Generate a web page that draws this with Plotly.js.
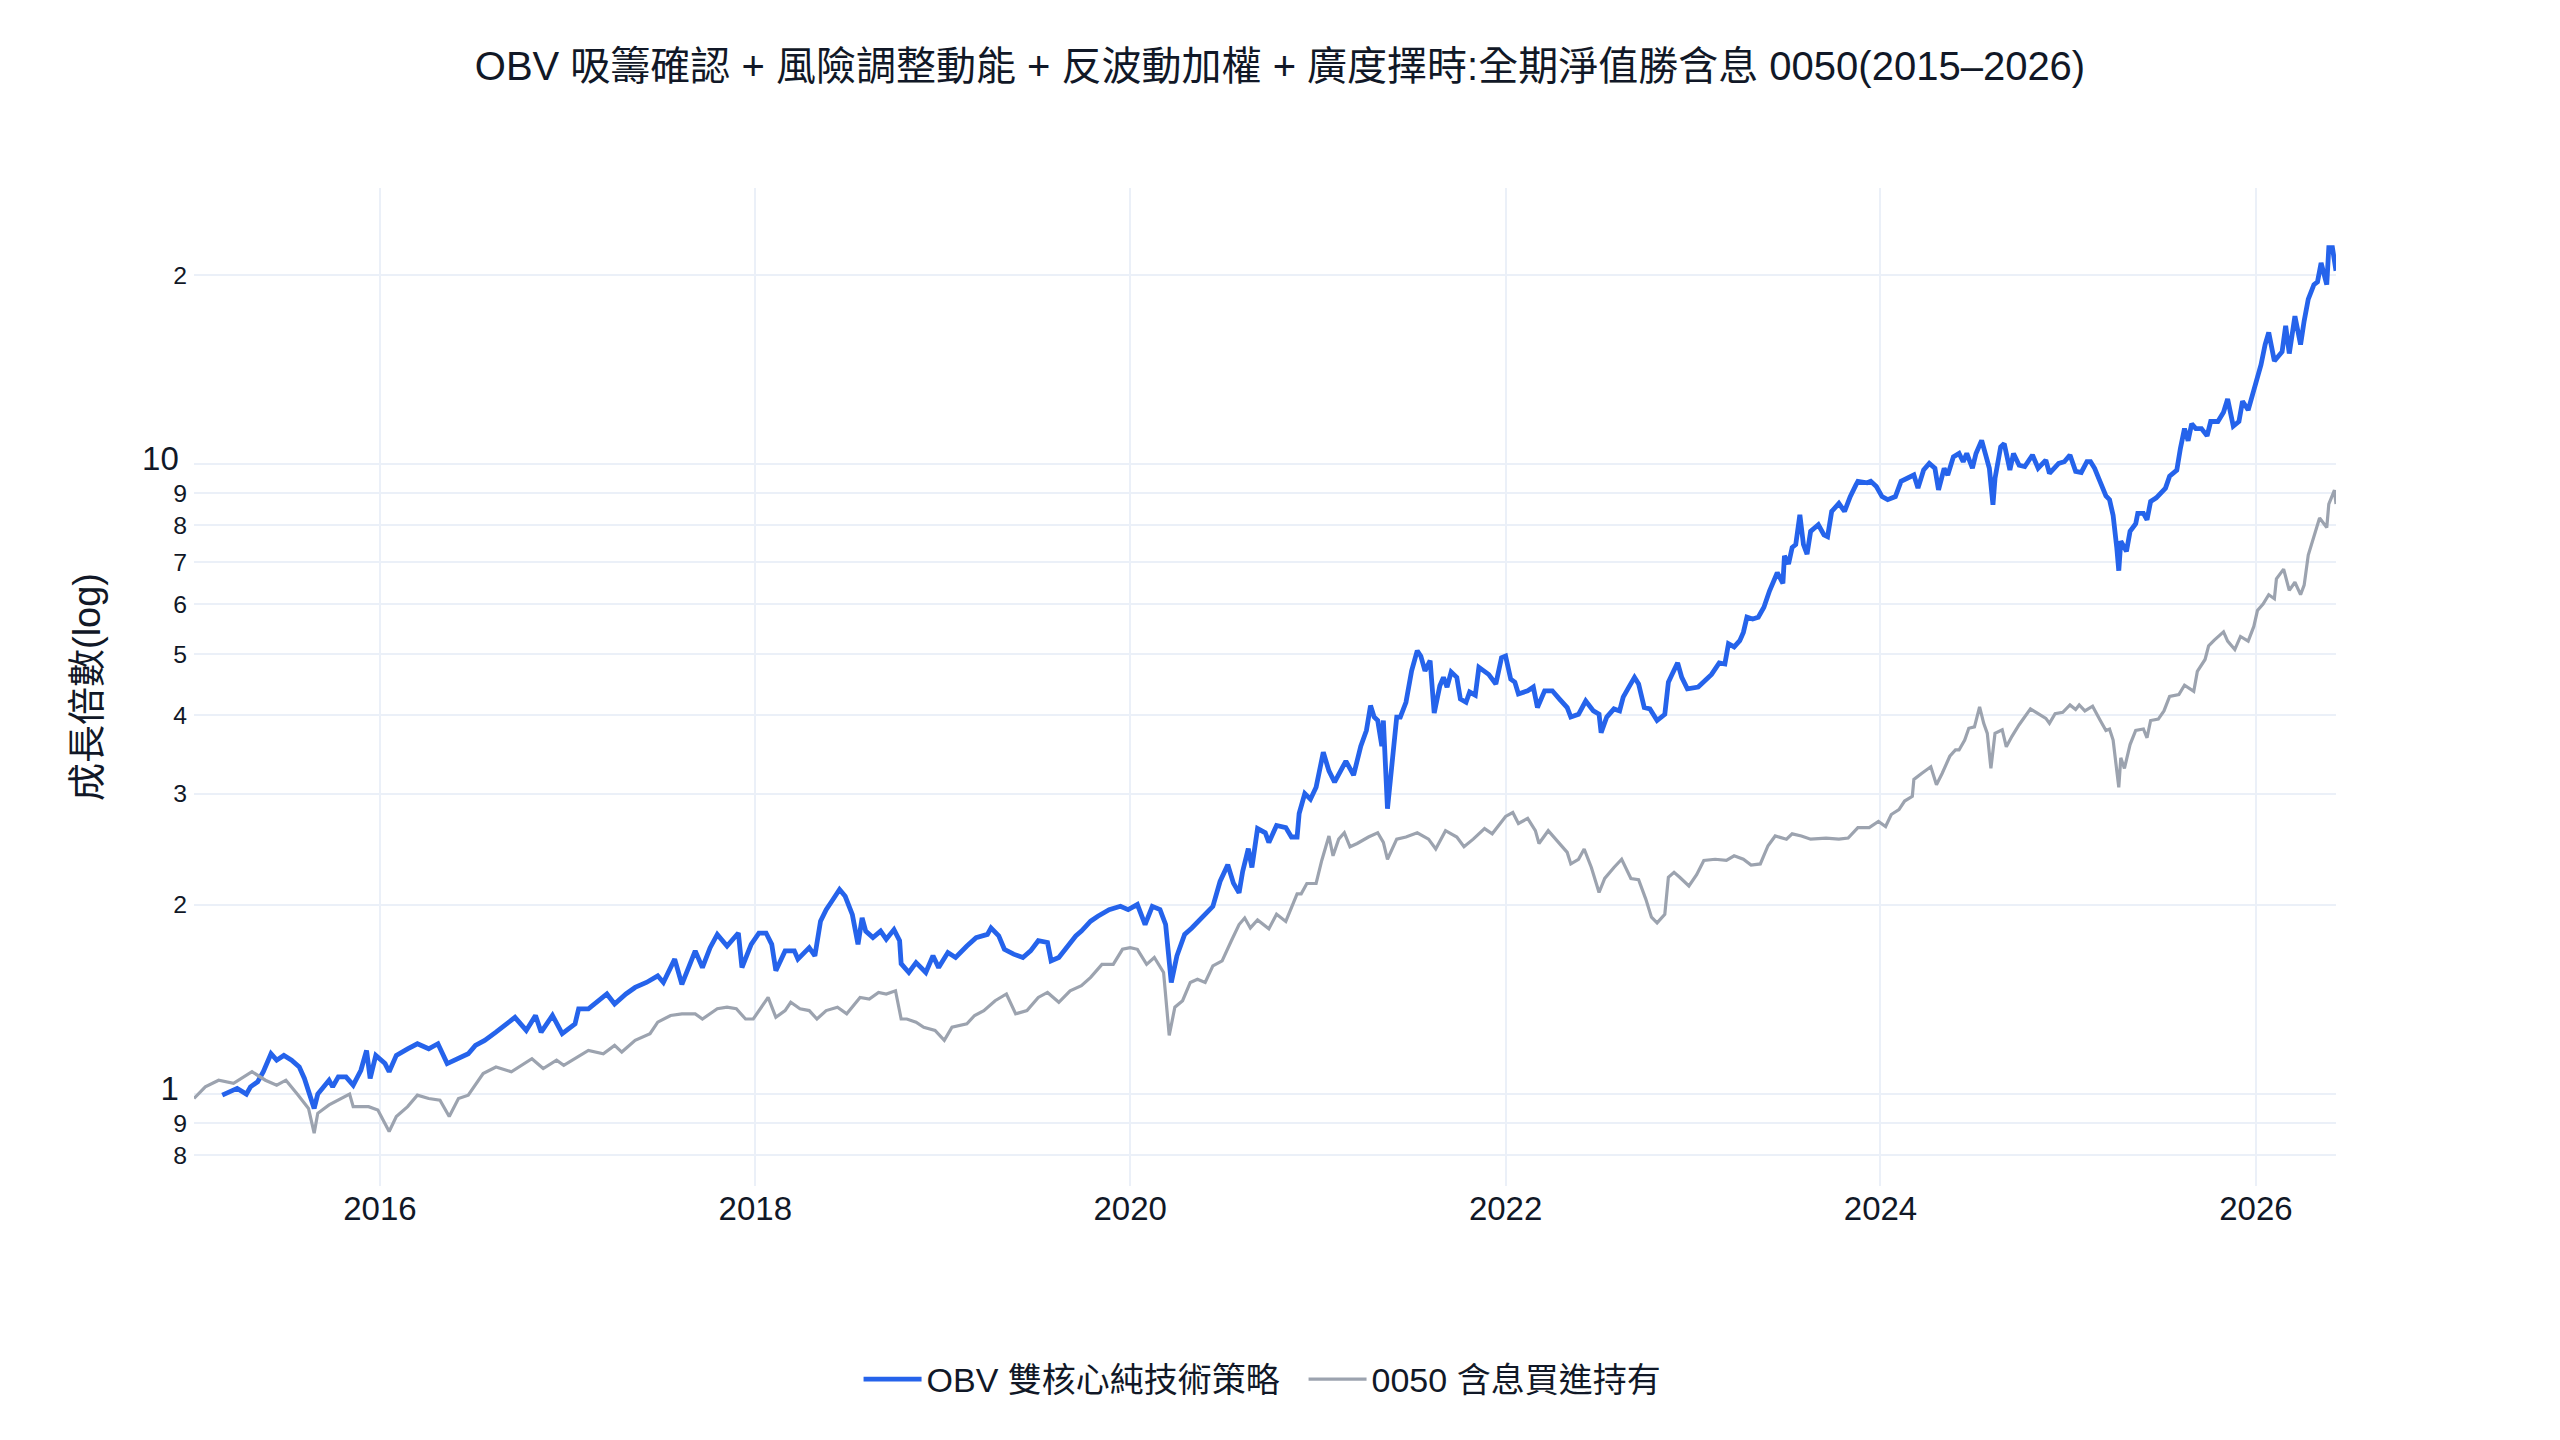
<!DOCTYPE html>
<html>
<head>
<meta charset="utf-8">
<script src="https://cdn.plot.ly/plotly-3.0.1.min.js"></script>
<style>
  html, body { margin: 0; padding: 0; background: #fff; overflow: hidden; }
  #chart { width: 2560px; height: 1440px; }
</style>
</head>
<body>
<div id="chart"></div>
<script>
// OBV strategy (decimal year, growth multiple)
const stratYear = [
  2015.16, 2015.20, 2015.24, 2015.29, 2015.31, 2015.35, 2015.38, 2015.42, 2015.45, 2015.49,
  2015.53, 2015.57, 2015.60, 2015.65, 2015.67, 2015.73, 2015.75, 2015.78, 2015.82, 2015.86,
  2015.90, 2015.93, 2015.95, 2015.98, 2016.03, 2016.05, 2016.09, 2016.15, 2016.20, 2016.26,
  2016.31, 2016.36, 2016.41, 2016.47, 2016.51, 2016.56, 2016.62, 2016.67, 2016.72, 2016.78,
  2016.83, 2016.86, 2016.92, 2016.97, 2017.04, 2017.06, 2017.11, 2017.21, 2017.25, 2017.31,
  2017.36, 2017.42, 2017.48, 2017.51, 2017.57, 2017.61, 2017.68, 2017.72, 2017.76, 2017.80,
  2017.85, 2017.91, 2017.93, 2017.98, 2018.02, 2018.06, 2018.09, 2018.11, 2018.16, 2018.21,
  2018.23, 2018.29, 2018.32, 2018.35, 2018.38, 2018.41, 2018.45, 2018.48, 2018.52, 2018.55,
  2018.57, 2018.59, 2018.63, 2018.67, 2018.70, 2018.74, 2018.77, 2018.78, 2018.82, 2018.86,
  2018.91, 2018.95, 2018.98, 2019.03, 2019.07, 2019.13, 2019.18, 2019.24, 2019.26, 2019.30,
  2019.33, 2019.38, 2019.43, 2019.47, 2019.51, 2019.56, 2019.58, 2019.62, 2019.66, 2019.71,
  2019.74, 2019.79, 2019.83, 2019.89, 2019.95, 2019.99, 2020.04, 2020.08, 2020.12, 2020.16,
  2020.19, 2020.22, 2020.25, 2020.29, 2020.33, 2020.38, 2020.44, 2020.48, 2020.52, 2020.55,
  2020.58, 2020.60, 2020.63, 2020.65, 2020.68, 2020.72, 2020.74, 2020.78, 2020.83, 2020.86,
  2020.89, 2020.90, 2020.93, 2020.96, 2020.99, 2021.03, 2021.06, 2021.09, 2021.15, 2021.19,
  2021.23, 2021.26, 2021.28, 2021.30, 2021.32, 2021.34, 2021.35, 2021.37, 2021.40, 2021.42,
  2021.44, 2021.47, 2021.50, 2021.53, 2021.55, 2021.57, 2021.60, 2021.62, 2021.65, 2021.67,
  2021.69, 2021.71, 2021.74, 2021.76, 2021.79, 2021.81, 2021.84, 2021.86, 2021.91, 2021.95,
  2021.98, 2022.00, 2022.03, 2022.05, 2022.07, 2022.12, 2022.15, 2022.17, 2022.21, 2022.25,
  2022.29, 2022.33, 2022.35, 2022.39, 2022.43, 2022.47, 2022.50, 2022.51, 2022.54, 2022.58,
  2022.61, 2022.63, 2022.66, 2022.69, 2022.71, 2022.74, 2022.77, 2022.81, 2022.85, 2022.87,
  2022.89, 2022.92, 2022.94, 2022.97, 2023.03, 2023.06, 2023.10, 2023.14, 2023.17, 2023.19,
  2023.22, 2023.25, 2023.27, 2023.29, 2023.32, 2023.35, 2023.38, 2023.41, 2023.43, 2023.45,
  2023.48, 2023.49, 2023.51, 2023.53, 2023.55, 2023.57, 2023.59, 2023.61, 2023.63, 2023.67,
  2023.70, 2023.72, 2023.74, 2023.78, 2023.81, 2023.84, 2023.87, 2023.88, 2023.93, 2023.95,
  2023.98, 2024.01, 2024.04, 2024.08, 2024.11, 2024.15, 2024.18, 2024.20, 2024.23, 2024.26,
  2024.29, 2024.31, 2024.34, 2024.36, 2024.39, 2024.42, 2024.44, 2024.46, 2024.49, 2024.51,
  2024.54, 2024.56, 2024.58, 2024.60, 2024.61, 2024.64, 2024.66, 2024.69, 2024.71, 2024.74,
  2024.77, 2024.81, 2024.84, 2024.88, 2024.90, 2024.95, 2024.98, 2025.01, 2025.04, 2025.07,
  2025.10, 2025.12, 2025.14, 2025.17, 2025.20, 2025.22, 2025.24, 2025.26, 2025.27, 2025.28,
  2025.31, 2025.33, 2025.36, 2025.37, 2025.40, 2025.42, 2025.44, 2025.47, 2025.50, 2025.52,
  2025.54, 2025.58, 2025.60, 2025.62, 2025.64, 2025.66, 2025.68, 2025.71, 2025.74, 2025.76,
  2025.80, 2025.83, 2025.85, 2025.88, 2025.91, 2025.93, 2025.96, 2025.99, 2026.01, 2026.03,
  2026.05, 2026.07, 2026.10, 2026.14, 2026.16, 2026.18, 2026.21, 2026.24, 2026.26, 2026.28,
  2026.31, 2026.33, 2026.35, 2026.38, 2026.39, 2026.41, 2026.43
];
const stratValue = [
  0.996, 1.008, 1.021, 1.000, 1.027, 1.046, 1.085, 1.159, 1.132, 1.152,
  1.132, 1.104, 1.059, 0.949, 1.000, 1.052, 1.027, 1.065, 1.065, 1.033,
  1.091, 1.173, 1.059, 1.152, 1.118, 1.085, 1.152, 1.180, 1.202, 1.180,
  1.202, 1.118, 1.138, 1.159, 1.195, 1.217, 1.254, 1.293, 1.324, 1.262,
  1.333, 1.254, 1.333, 1.247, 1.293, 1.366, 1.366, 1.442, 1.390, 1.442,
  1.477, 1.504, 1.541, 1.504, 1.638, 1.494, 1.688, 1.588, 1.708, 1.793,
  1.718, 1.802, 1.588, 1.729, 1.802, 1.802, 1.729, 1.570, 1.688, 1.688,
  1.638, 1.708, 1.658, 1.882, 1.963, 2.024, 2.113, 2.061, 1.927, 1.729,
  1.904, 1.815, 1.772, 1.815, 1.762, 1.825, 1.752, 1.611, 1.560, 1.617,
  1.560, 1.658, 1.588, 1.678, 1.648, 1.718, 1.772, 1.793, 1.836, 1.783,
  1.698, 1.668, 1.648, 1.688, 1.752, 1.741, 1.628, 1.648, 1.708, 1.783,
  1.815, 1.882, 1.916, 1.963, 1.987, 1.963, 2.000, 1.859, 1.987, 1.963,
  1.859, 1.504, 1.658, 1.793, 1.836, 1.904, 1.987, 2.176, 2.313, 2.163,
  2.087, 2.257, 2.454, 2.290, 2.640, 2.600, 2.510, 2.670, 2.650, 2.560,
  2.560, 2.790, 3.000, 2.940, 3.070, 3.490, 3.260, 3.130, 3.380, 3.210,
  3.570, 3.780, 4.140, 3.970, 3.920, 3.570, 3.920, 2.840, 3.420, 3.970,
  3.970, 4.190, 4.700, 5.060, 4.960, 4.700, 4.880, 4.030, 4.450, 4.590,
  4.430, 4.680, 4.590, 4.240, 4.190, 4.350, 4.300, 4.760, 4.640, 4.480,
  4.930, 4.960, 4.560, 4.510, 4.320, 4.370, 4.430, 4.110, 4.370, 4.370,
  4.240, 4.110, 3.970, 4.010, 4.210, 4.060, 4.010, 3.750, 3.970, 4.090,
  4.060, 4.270, 4.430, 4.590, 4.480, 4.110, 4.090, 3.920, 4.010, 4.510,
  4.640, 4.840, 4.590, 4.400, 4.430, 4.510, 4.640, 4.840, 4.820, 5.190,
  5.130, 5.250, 5.410, 5.720, 5.680, 5.720, 5.930, 6.300, 6.500, 6.730,
  6.470, 7.160, 6.950, 7.380, 7.460, 8.320, 7.460, 7.200, 7.830, 8.020,
  7.730, 7.680, 8.420, 8.670, 8.420, 8.890, 9.270, 9.400, 9.350, 9.400,
  9.220, 8.890, 8.790, 8.890, 9.400, 9.500, 9.620, 9.170, 9.800, 10.04,
  9.860, 9.110, 9.860, 9.620, 10.28, 10.41, 10.10, 10.41, 9.860, 10.41,
  10.92, 10.41, 9.860, 8.630, 9.500, 10.66, 10.79, 9.800, 10.41, 9.970,
  9.920, 10.35, 9.860, 10.16, 9.680, 10.04, 10.10, 10.35, 9.750, 9.710,
  10.10, 10.10, 9.860, 9.370, 8.910, 8.790, 8.300, 7.390, 6.780, 7.550,
  7.280, 7.830, 8.050, 8.360, 8.360, 8.170, 8.730, 8.850, 9.040, 9.170,
  9.580, 9.790, 10.60, 11.40, 10.90, 11.60, 11.40, 11.40, 11.10, 11.70,
  11.70, 12.10, 12.70, 11.50, 11.70, 12.60, 12.20, 13.10, 13.70, 14.40,
  15.50, 16.20, 14.60, 15.10, 16.60, 15.00, 17.20, 15.50, 16.90, 18.30,
  19.30, 19.50, 20.90, 19.30, 22.10, 22.10, 20.30
];

// 0050 buy & hold with dividends
const holdYear = [
  2015.01, 2015.07, 2015.14, 2015.22, 2015.32, 2015.39, 2015.45, 2015.50, 2015.56, 2015.62,
  2015.65, 2015.67, 2015.73, 2015.79, 2015.84, 2015.86, 2015.94, 2015.99, 2016.05, 2016.09,
  2016.15, 2016.20, 2016.26, 2016.32, 2016.37, 2016.42, 2016.47, 2016.55, 2016.62, 2016.70,
  2016.81, 2016.87, 2016.94, 2016.98, 2017.04, 2017.11, 2017.19, 2017.25, 2017.29, 2017.36,
  2017.44, 2017.48, 2017.55, 2017.61, 2017.68, 2017.72, 2017.80, 2017.85, 2017.90, 2017.95,
  2017.99, 2018.04, 2018.07, 2018.11, 2018.16, 2018.19, 2018.24, 2018.29, 2018.33, 2018.38,
  2018.44, 2018.49, 2018.56, 2018.61, 2018.66, 2018.70, 2018.75, 2018.78, 2018.81, 2018.86,
  2018.90, 2018.96, 2019.01, 2019.05, 2019.13, 2019.17, 2019.22, 2019.28, 2019.34, 2019.39,
  2019.45, 2019.51, 2019.56, 2019.62, 2019.68, 2019.74, 2019.79, 2019.85, 2019.91, 2019.96,
  2020.00, 2020.04, 2020.09, 2020.13, 2020.18, 2020.21, 2020.24, 2020.28, 2020.32, 2020.36,
  2020.40, 2020.44, 2020.49, 2020.54, 2020.58, 2020.61, 2020.64, 2020.68, 2020.74, 2020.78,
  2020.83, 2020.89, 2020.91, 2020.94, 2020.99, 2021.02, 2021.06, 2021.08, 2021.11, 2021.14,
  2021.17, 2021.21, 2021.27, 2021.32, 2021.35, 2021.37, 2021.42, 2021.47, 2021.53, 2021.59,
  2021.63, 2021.68, 2021.74, 2021.78, 2021.83, 2021.89, 2021.93, 2022.00, 2022.04, 2022.07,
  2022.12, 2022.16, 2022.18, 2022.23, 2022.28, 2022.33, 2022.35, 2022.39, 2022.42, 2022.46,
  2022.50, 2022.53, 2022.58, 2022.62, 2022.67, 2022.71, 2022.75, 2022.78, 2022.81, 2022.85,
  2022.87, 2022.90, 2022.93, 2022.98, 2023.02, 2023.06, 2023.12, 2023.18, 2023.22, 2023.27,
  2023.31, 2023.36, 2023.40, 2023.44, 2023.50, 2023.53, 2023.58, 2023.63, 2023.71, 2023.78,
  2023.83, 2023.88, 2023.94, 2023.99, 2024.03, 2024.06, 2024.10, 2024.13, 2024.17, 2024.18,
  2024.22, 2024.27, 2024.30, 2024.33, 2024.37, 2024.40, 2024.42, 2024.45, 2024.47, 2024.50,
  2024.53, 2024.55, 2024.57, 2024.59, 2024.61, 2024.65, 2024.67, 2024.70, 2024.74, 2024.77,
  2024.80, 2024.84, 2024.88, 2024.90, 2024.93, 2024.97, 2025.01, 2025.04, 2025.06, 2025.09,
  2025.13, 2025.17, 2025.20, 2025.22, 2025.24, 2025.27, 2025.28, 2025.30, 2025.33, 2025.36,
  2025.40, 2025.42, 2025.44, 2025.48, 2025.51, 2025.54, 2025.59, 2025.62, 2025.67, 2025.69,
  2025.73, 2025.75, 2025.78, 2025.83, 2025.85, 2025.89, 2025.92, 2025.96, 2025.99, 2026.01,
  2026.04, 2026.07, 2026.10, 2026.11, 2026.15, 2026.18, 2026.21, 2026.24, 2026.26, 2026.28,
  2026.31, 2026.34, 2026.38, 2026.39, 2026.42, 2026.43
];
const holdValue = [
  0.984, 1.027, 1.052, 1.040, 1.085, 1.052, 1.033, 1.052, 1.000, 0.949,
  0.867, 0.932, 0.961, 0.984, 1.000, 0.955, 0.955, 0.943, 0.872, 0.921,
  0.955, 0.996, 0.984, 0.978, 0.921, 0.984, 0.996, 1.078, 1.104, 1.085,
  1.138, 1.098, 1.132, 1.111, 1.138, 1.173, 1.159, 1.195, 1.166, 1.217,
  1.247, 1.301, 1.333, 1.341, 1.341, 1.316, 1.366, 1.374, 1.366, 1.316,
  1.316, 1.382, 1.424, 1.324, 1.357, 1.399, 1.366, 1.357, 1.316, 1.357,
  1.374, 1.341, 1.424, 1.415, 1.450, 1.442, 1.459, 1.316, 1.316, 1.301,
  1.277, 1.262, 1.217, 1.277, 1.293, 1.333, 1.357, 1.407, 1.442, 1.341,
  1.357, 1.424, 1.450, 1.399, 1.459, 1.486, 1.532, 1.607, 1.607, 1.698,
  1.708, 1.698, 1.607, 1.648, 1.560, 1.239, 1.374, 1.407, 1.504, 1.522,
  1.504, 1.598, 1.628, 1.752, 1.859, 1.904, 1.836, 1.890, 1.830, 1.930,
  1.880, 2.080, 2.080, 2.160, 2.160, 2.350, 2.570, 2.390, 2.540, 2.600,
  2.470, 2.500, 2.560, 2.600, 2.510, 2.360, 2.540, 2.560, 2.600, 2.540,
  2.450, 2.620, 2.560, 2.470, 2.540, 2.640, 2.590, 2.760, 2.800, 2.690,
  2.740, 2.620, 2.500, 2.620, 2.520, 2.420, 2.320, 2.360, 2.450, 2.290,
  2.090, 2.200, 2.290, 2.360, 2.200, 2.190, 2.040, 1.910, 1.870, 1.930,
  2.210, 2.250, 2.210, 2.140, 2.230, 2.350, 2.360, 2.350, 2.390, 2.360,
  2.310, 2.320, 2.480, 2.570, 2.540, 2.590, 2.570, 2.540, 2.550, 2.540,
  2.550, 2.650, 2.650, 2.710, 2.660, 2.780, 2.830, 2.920, 2.970, 3.160,
  3.230, 3.310, 3.100, 3.230, 3.440, 3.520, 3.520, 3.650, 3.810, 3.830,
  4.120, 3.880, 3.740, 3.290, 3.740, 3.790, 3.560, 3.700, 3.860, 3.970,
  4.090, 4.020, 3.950, 3.880, 4.020, 4.040, 4.150, 4.080, 4.150, 4.060,
  4.130, 3.920, 3.780, 3.800, 3.650, 3.070, 3.420, 3.290, 3.590, 3.780,
  3.800, 3.680, 3.920, 3.940, 4.060, 4.280, 4.310, 4.460, 4.360, 4.690,
  4.900, 5.150, 5.260, 5.420, 5.240, 5.080, 5.330, 5.240, 5.530, 5.860,
  6.000, 6.210, 6.120, 6.580, 6.820, 6.310, 6.500, 6.210, 6.430, 7.180,
  7.710, 8.220, 7.940, 8.650, 9.100, 8.650
];

const STRAT_NAME = "OBV 雙核心純技術策略";
const HOLD_NAME = "0050 含息買進持有";
const TITLE = "OBV 吸籌確認 + 風險調整動能 + 反波動加權 + 廣度擇時:全期淨值勝含息 0050(2015–2026)";

const FONT = '"Helvetica Neue", Arial, "Liberation Sans", "Noto Sans CJK TC", sans-serif';
const INK = "#111827";
const GRID = "#EBF0F8";

// decimal year -> ISO date string
function toDate(y) {
  const yr = Math.floor(y);
  const a = Date.UTC(yr, 0, 1);
  const b = Date.UTC(yr + 1, 0, 1);
  return new Date(a + (y - yr) * (b - a)).toISOString().slice(0, 10);
}

const traces = [
  {
    x: stratYear.map(toDate),
    y: stratValue,
    mode: "lines",
    name: STRAT_NAME,
    line: { color: "#2563EB", width: 4.8 },
  },
  {
    x: holdYear.map(toDate),
    y: holdValue,
    mode: "lines",
    name: HOLD_NAME,
    line: { color: "#9CA3AF", width: 3.2 },
  },
];

const layout = {
  width: 2560,
  height: 1440,
  font: { family: FONT, color: INK, size: 32 },
  paper_bgcolor: "#fff",
  plot_bgcolor: "#fff",
  margin: { l: 194, r: 224, t: 188, b: 254 },
  title: {
    text: TITLE,
    font: { size: 40, color: INK },
    x: 0.5,
    xref: "container",
    y: 0.954,
    yanchor: "middle",
  },
  xaxis: {
    type: "date",
    tick0: "2016-01-01",
    dtick: "M24",
    tickformat: "%Y",
    gridcolor: GRID,
    gridwidth: 2,
    showline: false,
    zeroline: false,
    ticks: "",
    ticklabelstandoff: 0,
    tickfont: { size: 33 },
  },
  yaxis: {
    type: "log",
    dtick: "D1",
    range: [-0.146, 1.439],
    gridcolor: GRID,
    gridwidth: 2,
    showline: false,
    zeroline: false,
    ticks: "",
    ticklabelstandoff: 6,
    tickfont: { size: 33 },
    title: { text: "成長倍數(log)", font: { size: 38 }, standoff: 29 },
  },
  showlegend: true,
  legend: {
    orientation: "h",
    x: 0.518,
    xanchor: "center",
    y: -0.194,
    yanchor: "middle",
    itemwidth: 58,
    entrywidth: 372,
    font: { size: 34 },
  },
};

Plotly.newPlot("chart", traces, layout, { displayModeBar: false, staticPlot: true });
</script>
</body>
</html>
